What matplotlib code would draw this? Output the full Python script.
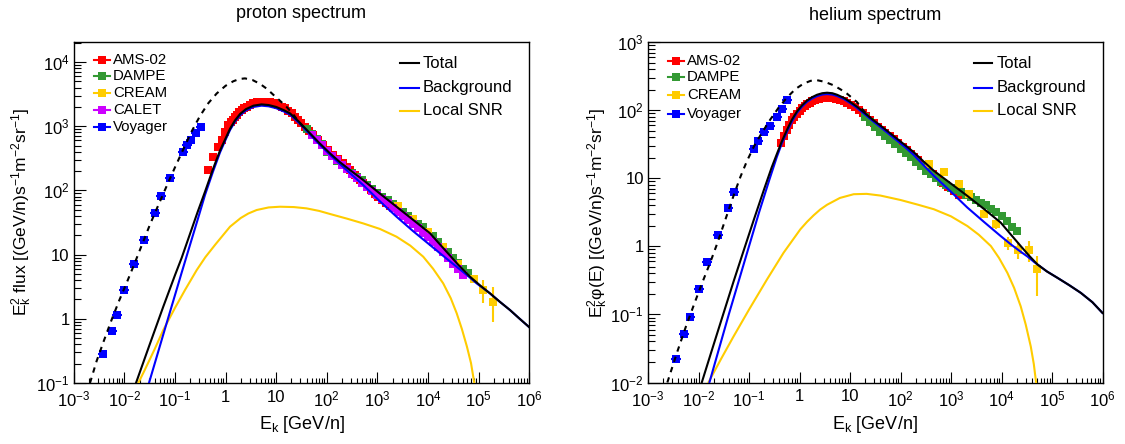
import numpy as np
import matplotlib
matplotlib.use('Agg')
import matplotlib.pyplot as plt
from matplotlib.ticker import FixedLocator, FixedFormatter, LogLocator, NullFormatter

plt.rcParams['font.family'] = ['Liberation Sans', 'DejaVu Sans']
plt.rcParams['mathtext.fontset'] = 'custom'
plt.rcParams['mathtext.rm'] = 'Liberation Sans'
plt.rcParams['mathtext.it'] = 'Liberation Sans:italic'
plt.rcParams['mathtext.bf'] = 'Liberation Sans:bold'
plt.rcParams['mathtext.default'] = 'regular'

# ---------------- colours ----------------
RED = '#ff0000'
GREEN = '#339933'
YELLOW = '#ffcc00'
MAGENTA = '#cc00ff'
BLUE = '#0000ff'

# ---------------- proton data ----------------
p_ams_E = [0.454, 0.570, 0.716, 0.836, 0.973, 1.130, 1.259, 1.380, 1.514, 1.656, 1.862, 2.080,
           2.344, 2.612, 3.020, 3.532, 4.266, 5.164, 6.237, 7.551, 9.120, 11.02, 12.82, 14.93,
           17.38, 20.23, 23.44, 27.35, 31.62, 37.07, 44.67, 54.08, 67.61, 85.31, 107.2, 134.3,
           169.8, 211.8, 245.5, 287.1, 363.1, 452.9, 524.8, 613.8, 741.3, 891.3, 1047, 1259,
           1479, 1778]
p_ams_F = [208, 335, 479, 610, 822, 1045, 1148, 1250, 1380, 1496, 1641, 1786,
           1905, 2014, 2138, 2275, 2355, 2410, 2399, 2355, 2265, 2138, 2018, 1901,
           1738, 1585, 1413, 1250, 1109, 977, 841, 729, 610, 509, 427, 356,
           309, 264, 234, 208, 174, 145, 129, 114, 100, 89.1, 79.4, 70.8,
           63.1, 56.2]

p_dampe_E = [39.8, 50.1, 63.1, 79.4, 100, 126, 158, 200, 251, 316, 398, 501, 631, 794, 1000,
             1259, 1585, 1995, 2512, 3162, 3981, 5012, 6310, 7943, 10000, 12590, 15850, 19950,
             25120, 31620, 39810, 50120, 63100, 79430]
p_dampe_F = [912, 759, 631, 525, 402, 338, 291, 253, 215, 188, 164, 143, 121, 106, 92,
             80.1, 69.8, 60.8, 52.9, 46.1, 40.2, 35.0, 30.5, 26.5, 22.5, 19.2, 16.0, 13.2,
             10.8, 9.0, 7.4, 5.95, 5.13, 4.17]

p_cream_E = [2512, 5012, 10000, 19950, 39810, 79430, 120200, 190500]
p_cream_F = [56.2, 36.3, 22.9, 13.2, 7.24, 4.17, 2.82, 1.86]
p_cream_errlo = [1.5, 1.1, 0.9, 0.8, 0.6, 0.6, 1.08, 0.96]
p_cream_errhi = [1.5, 1.1, 0.9, 0.8, 0.6, 0.6, 1.16, 1.30]

p_calet_E = [50.1, 63.1, 79.4, 100, 126, 158, 200, 251, 316, 398, 501, 631, 794, 1000, 1259, 1585,
             1995, 2512, 3162, 3981, 5012, 6310, 7943, 10000, 12590, 15850, 19950, 25120, 31620,
             39810, 50120]
p_calet_F = [724, 603, 501, 417, 347, 295, 251, 214, 182, 155, 132, 115, 97.7, 85.1, 72.4, 63.1,
             53.7, 46.8, 39.8, 34.7, 29.5, 25.7, 21.9, 18.6, 15.8, 13.2, 11.0, 8.91, 7.24, 5.89, 4.79]

p_voy_E = [0.0037, 0.0056, 0.0071, 0.0100, 0.0152, 0.0245, 0.040, 0.053, 0.081, 0.146, 0.175,
           0.203, 0.255, 0.32]
p_voy_F = [0.28, 0.65, 1.15, 2.8, 7.1, 16.9, 45, 83, 156, 401, 509, 610, 773, 977]

p_tot_E = [0.01694, 0.0316, 0.0587, 0.1, 0.1355, 0.1995, 0.2818, 0.392, 0.562, 0.774, 1.0, 1.222,
           1.531, 1.928, 2.512, 3.548, 5.129, 7.079, 10, 14.13, 18.75, 28.18, 46.56, 70.79, 115.6,
           182, 287, 525, 1122, 2388, 5012, 10960, 15850, 23230, 39810, 67610, 107200, 167900,
           263000, 416900, 631000, 1.0e6]
p_tot_F = [0.1, 0.398, 1.549, 4.79, 8.91, 21.4, 46.8, 95.5, 214, 417, 646, 912,
           1230, 1549, 1841, 2089, 2188, 2138, 1995, 1778, 1585, 1175, 776, 550, 378,
           275, 208, 145, 89.1, 55.7, 35.1, 21.5, 15.5, 11.1, 6.92, 4.53, 3.31, 2.49,
           1.84, 1.37, 1.02, 0.741]

p_bkg_E = [0.0306, 0.0447, 0.0631, 0.1, 0.1355, 0.1995, 0.2818, 0.392, 0.562, 0.774, 1.0, 1.222,
           1.531, 1.928, 2.512, 3.548, 5.129, 7.079, 10, 14.13, 18.75, 28.18, 46.56, 70.79, 115.6,
           182, 287, 525, 1122, 2388, 5012, 10960, 19950, 36900, 58880, 91200, 167900, 263000,
           416900, 631000, 1.0e6]
p_bkg_F = [0.1, 0.275, 0.692, 2.344, 5.25, 14.45, 35.5, 85.1, 195, 389, 617, 871,
           1175, 1479, 1758, 1995, 2089, 2042, 1905, 1698, 1514, 1122, 741, 525, 359,
           257, 186, 121, 67.6, 38.9, 23.4, 14.1, 9.55, 6.46, 4.79, 3.57, 2.49, 1.84,
           1.37, 1.02, 0.741]

p_snr_E = [0.0188, 0.0251, 0.0398, 0.0587, 0.1, 0.158, 0.269, 0.398, 0.631, 1.222, 1.995, 2.818,
           4.11, 7.08, 11.9, 22.4, 39.8, 70.8, 116, 251, 525, 1122, 2388, 4467, 8054, 12590,
           19950, 28180, 36900, 46770, 58880, 70790, 82220]
p_snr_F = [0.1, 0.158, 0.339, 0.670, 1.479, 2.818, 5.754, 9.12, 14.45, 27.2, 37.2, 43.7,
           49.5, 54.3, 55.7, 55.0, 52.5, 47.9, 42.9, 36.3, 30.6, 25.1, 19.0, 13.8, 9.27, 6.03,
           3.57, 2.09, 1.22, 0.692, 0.367, 0.204, 0.1]

p_lis_E = [0.00209, 0.00282, 0.00398, 0.00562, 0.00794, 0.01122, 0.01585, 0.0224, 0.0321, 0.0468,
           0.0686, 0.1, 0.1459, 0.2138, 0.3119, 0.4571, 0.6668, 1.0, 1.419, 1.862, 2.415, 3.388,
           4.786, 6.607, 8.770, 11.75, 16.11, 21.88, 29.51, 39.81]
p_lis_F = [0.1, 0.219, 0.468, 0.977, 1.95, 3.72, 7.24, 14.45, 29.5, 58.9,
           117.5, 229, 437, 832, 1445, 2291, 3236, 4266, 5012, 5433, 5559, 5248,
           4571, 3802, 3090, 2512, 1995, 1514, 1109, 871]

# ---------------- helium data ----------------
he_ams_E = [0.4365, 0.5012, 0.5623, 0.6310, 0.7079, 0.7943, 0.8913, 1.0, 1.122, 1.259, 1.413,
            1.585, 1.778, 2.042, 2.399, 2.754, 3.162, 3.758, 4.467, 5.309, 6.310, 7.499, 8.913,
            10.59, 12.59, 14.96, 17.78, 21.13, 25.12, 29.85, 35.48, 42.17, 50.12, 60.95, 74.13,
            91.2, 112.2, 133.4, 158.5, 188.4, 223.9, 281.8, 354.8, 446.7, 562.3, 707.9, 891.3,
            1122, 1413]
he_ams_F = [33.1, 41.7, 51.3, 60.3, 70.8, 80.4, 89.1, 97.7, 107.2, 114.8, 123.0,
            128.8, 134.9, 141.3, 146.2, 150.3, 153.1, 153.1, 151.4, 147.9, 142.9, 134.9, 125.9,
            117.5, 109.6, 100, 91.2, 81.3, 72.4, 63.8, 56.2, 50.7, 45.7, 41.2, 37.2,
            32.7, 28.8, 25.7, 22.9, 20.4, 18.2, 15.7, 13.5, 11.6, 10.0, 8.61, 7.41,
            6.53, 5.75]

he_dampe_E = [19.95, 25.12, 31.62, 39.81, 50.12, 63.1, 79.43, 100, 125.9, 158.5, 199.5, 251.2,
              316.2, 398.1, 501.2, 631, 794.3, 1000, 1259, 1585, 1995, 2512, 3162, 3981, 5012,
              6310, 7943, 10000, 12590, 15850, 19950]
he_dampe_F = [79.4, 66.1, 56.2, 48.4, 41.7, 36.3, 31.6, 27.2, 23.4, 20.2, 17.4, 15.0,
              12.9, 11.35, 10.0, 8.91, 7.94, 7.24, 6.61, 6.17, 5.75, 5.25, 4.79, 4.37, 3.98,
              3.55, 3.16, 2.75, 2.34, 1.95, 1.66]

he_cream_E = [363, 724, 1445, 2291, 4467, 7762, 13180, 20890, 35480, 51290]
he_cream_F = [16.2, 12.2, 8.13, 5.89, 2.95, 2.09, 1.12, 0.891, 0.891, 0.457]
he_cream_errlo = [0.8, 0.7, 0.6, 0.6, 0.35, 0.3, 0.25, 0.25, 0.3, 0.27]
he_cream_errhi = [0.8, 0.7, 0.6, 0.6, 0.35, 0.3, 0.25, 0.25, 0.3, 0.26]

he_voy_E = [0.00360, 0.00525, 0.00692, 0.0104, 0.0150, 0.0242, 0.0392, 0.0508, 0.123, 0.154,
            0.200, 0.263, 0.358, 0.450, 0.565]
he_voy_F = [0.022, 0.051, 0.092, 0.237, 0.59, 1.46, 3.7, 6.2, 27, 35.7, 47, 59, 79, 105, 139]

he_tot_E = [0.01161, 0.01778, 0.02818, 0.04932, 0.07943, 0.1259, 0.1995, 0.2818, 0.3581, 0.4467,
            0.5649, 0.7079, 0.8913, 1.122, 1.409, 1.778, 2.223, 2.818, 3.516, 4.467, 5.546, 7.586,
            10.19, 13.8, 18.71, 28.18, 40.09, 58.88, 86.1, 125.9, 183.7, 281.8, 458.1, 1000,
            2104, 4467, 9638, 15850, 24040, 35480, 51520, 79430, 128500, 218800, 372400,
            631000, 1.0e6]
he_tot_F = [0.01, 0.0275, 0.0813, 0.302, 0.891, 2.512, 6.918, 14.45, 22.9, 34.7,
            51.3, 72.4, 95.5, 117.5, 138, 155, 168, 177, 180, 177, 168, 151,
            131, 112, 93.3, 72.4, 59.3, 47.3, 37.8, 30.2, 24.0, 17.8, 12.85, 8.32,
            5.50, 3.55, 2.23, 1.445, 1.007, 0.724, 0.541, 0.427, 0.344, 0.269, 0.207,
            0.151, 0.105]

he_bkg_E = [0.01644, 0.02512, 0.03981, 0.0631, 0.1, 0.1585, 0.2512, 0.3548, 0.4467, 0.5649,
            0.7079, 0.8913, 1.122, 1.409, 1.778, 2.223, 2.818, 3.516, 4.467, 5.546, 7.586, 10.19,
            13.8, 18.71, 28.18, 40.09, 58.88, 86.1, 125.9, 183.7, 281.8, 458.1, 1000, 2104,
            4467, 9638, 15850, 23990, 32660, 44160, 51520, 79430, 128500, 218800, 372400,
            631000, 1.0e6]
he_bkg_F = [0.01, 0.0302, 0.1, 0.316, 1.0, 3.162, 9.33, 20.4, 32.4, 47.9,
            67.6, 91.2, 112, 132, 148, 160, 169, 172, 169, 161, 145, 126,
            107, 89.1, 69.2, 56.2, 44.7, 35.5, 28.2, 21.9, 15.7, 10.84, 6.31, 3.71,
            2.29, 1.413, 1.047, 0.832, 0.708, 0.589, 0.541, 0.427, 0.344, 0.269, 0.207,
            0.151, 0.105]

he_snr_E = [0.0157, 0.02818, 0.04932, 0.1, 0.2265, 0.4842, 1.038, 1.413, 1.905, 2.570, 3.516,
            6.31, 11.83, 21.38, 40.09, 100, 223.9, 458.1, 1000, 2104, 3548, 6166, 8913, 13090,
            17780, 24040, 30200, 38020, 43650, 48420]
he_snr_F = [0.01, 0.0224, 0.0473, 0.1175, 0.325, 0.805, 1.774, 2.291, 2.851, 3.467, 4.074,
            5.129, 5.821, 5.888, 5.559, 4.786, 4.074, 3.499, 2.754, 1.986, 1.479, 1.007, 0.676,
            0.407, 0.245, 0.131, 0.0708, 0.0337, 0.0186, 0.01]

he_lis_E = [0.002415, 0.003715, 0.005623, 0.007925, 0.01122, 0.01698, 0.02399, 0.03119, 0.04932,
            0.06761, 0.09078, 0.1259, 0.1778, 0.263, 0.3802, 0.5649, 0.8318, 1.205, 1.66, 2.223,
            3.162, 4.753, 6.457, 8.75, 13.8, 18.62, 25.12]
he_lis_F = [0.01, 0.0269, 0.0661, 0.132, 0.263, 0.573, 1.148, 2.042, 5.495,
            10.47, 17.78, 29.5, 45.7, 72.4, 107, 153, 204, 245, 269, 275,
            260, 231, 202, 174, 131, 97.7, 77.6]

voy_xerr_ratio = 1.25

# ---------------- axis labels / ticks ----------------
x_ticks = [1e-3, 1e-2, 1e-1, 1, 10, 1e2, 1e3, 1e4, 1e5, 1e6]
x_ticklabels = [r'$10^{-3}$', r'$10^{-2}$', r'$10^{-1}$', '1', '10', r'$10^{2}$', r'$10^{3}$',
                r'$10^{4}$', r'$10^{5}$', r'$10^{6}$']
p_yticks = [1e-1, 1, 10, 1e2, 1e3, 1e4]
p_yticklabels = [r'$10^{-1}$', '1', '10', r'$10^{2}$', r'$10^{3}$', r'$10^{4}$']
he_yticks = [1e-2, 1e-1, 1, 10, 1e2, 1e3]
he_yticklabels = [r'$10^{-2}$', r'$10^{-1}$', '1', '10', r'$10^{2}$', r'$10^{3}$']

xlabel = r'$E_{k}$ [GeV/n]'
p_ylabel = r'$E_{k}^{2}$ flux [(GeV/n)s$^{-1}$m$^{-2}$sr$^{-1}$]'
he_ylabel = r'$E_{k}^{2}$φ(E) [(GeV/n)s$^{-1}$m$^{-2}$sr$^{-1}$]'

curve_labels = ['Total', 'Background', 'Local SNR']
curve_colors = ['black', BLUE, YELLOW]

W, H = 1125, 444
fig = plt.figure(figsize=(W / 100, H / 100), dpi=100)
ax1 = fig.add_axes([73.8 / W, 61 / H, 455.4 / W, 341 / H])
ax2 = fig.add_axes([648 / W, 61.5 / H, 454.5 / W, 340.5 / H])

MS = 6.0
LW = 1.5


def plot_data(ax, E, F, color, yerr=None, voy=False):
    E = np.asarray(E, float)
    F = np.asarray(F, float)
    xerr = None
    if voy:
        xerr = [E - E / voy_xerr_ratio, E * voy_xerr_ratio - E]
    ax.errorbar(E, F, xerr=xerr, yerr=yerr, fmt='s', ms=MS, mew=0, color=color,
                ecolor=color, elinewidth=1.5, capsize=0, zorder=3)


def style_axes(ax, yticks, ylabels, ylim, ylab, ylab_x):
    ax.set_xscale('log')
    ax.set_yscale('log')
    ax.set_xlim(1e-3, 1e6)
    ax.set_ylim(*ylim)
    ax.xaxis.set_major_locator(FixedLocator(x_ticks))
    ax.xaxis.set_major_formatter(FixedFormatter(x_ticklabels))
    ax.xaxis.set_minor_locator(LogLocator(base=10, subs=np.arange(2, 10), numticks=100))
    ax.xaxis.set_minor_formatter(NullFormatter())
    ax.yaxis.set_major_locator(FixedLocator(yticks))
    ax.yaxis.set_major_formatter(FixedFormatter(ylabels))
    ax.yaxis.set_minor_locator(LogLocator(base=10, subs=np.arange(2, 10), numticks=100))
    ax.yaxis.set_minor_formatter(NullFormatter())
    ax.tick_params(axis='x', which='major', direction='in', length=8, width=0.8,
                   labelsize=12, pad=5, top=False)
    ax.tick_params(axis='x', which='minor', direction='in', length=3.8, width=0.8, top=False)
    ax.tick_params(axis='y', which='major', direction='in', length=8.6, width=0.8,
                   labelsize=12, pad=3, right=False)
    ax.tick_params(axis='y', which='minor', direction='in', length=4.8, width=0.8, right=False)
    for s in ax.spines.values():
        s.set_linewidth(1.0)
    ax.set_xlabel(xlabel, fontsize=13)
    ax.xaxis.set_label_coords(0.5, -0.123)
    ax.xaxis.label.set_verticalalignment('center')
    ax.set_ylabel(ylab, fontsize=12.5)
    ax.yaxis.set_label_coords(ylab_x, 0.5)
    ax.yaxis.label.set_verticalalignment('center')


def data_legend(ax, labels, colors, ys):
    for lab, c, y in zip(labels, colors, ys):
        ax.plot([0.045, 0.080], [y, y], color=c, lw=LW, transform=ax.transAxes, clip_on=False)
        ax.plot([0.0625], [y], 's', ms=MS, mew=0, color=c, transform=ax.transAxes, clip_on=False)
        ax.text(0.086, y, lab, transform=ax.transAxes, ha='left', va='center', fontsize=10.8)


def curve_legend(ax):
    for lab, c, y in zip(curve_labels, curve_colors, [0.9375, 0.866, 0.798]):
        ax.plot([0.717, 0.757], [y, y], color=c, lw=LW, transform=ax.transAxes, clip_on=False)
        ax.text(0.767, y, lab, transform=ax.transAxes, ha='left', va='center', fontsize=12)


dash = (0, (2.6, 2.6))

# ---------------- proton panel ----------------
plot_data(ax1, p_ams_E, p_ams_F, RED)
plot_data(ax1, p_dampe_E, p_dampe_F, GREEN)
plot_data(ax1, p_cream_E, p_cream_F, YELLOW, yerr=[p_cream_errlo, p_cream_errhi])
plot_data(ax1, p_calet_E, p_calet_F, MAGENTA)
plot_data(ax1, p_voy_E, p_voy_F, BLUE, voy=True)
ax1.plot(p_snr_E, p_snr_F, color=YELLOW, lw=LW, zorder=4)
ax1.plot(p_bkg_E, p_bkg_F, color=BLUE, lw=LW, zorder=5)
ax1.plot(p_tot_E, p_tot_F, color='black', lw=LW, zorder=6)
ax1.plot(p_lis_E, p_lis_F, color='black', lw=LW, ls=dash, zorder=6)
style_axes(ax1, p_yticks, p_yticklabels, (0.1, 2.05e4), p_ylabel, -0.115)
data_legend(ax1, ['AMS-02', 'DAMPE', 'CREAM', 'CALET', 'Voyager'],
            [RED, GREEN, YELLOW, MAGENTA, BLUE], [0.947, 0.899, 0.850, 0.8006, 0.751])
curve_legend(ax1)

# ---------------- helium panel ----------------
plot_data(ax2, he_ams_E, he_ams_F, RED)
plot_data(ax2, he_dampe_E, he_dampe_F, GREEN)
plot_data(ax2, he_cream_E, he_cream_F, YELLOW, yerr=[he_cream_errlo, he_cream_errhi])
plot_data(ax2, he_voy_E, he_voy_F, BLUE, voy=True)
ax2.plot(he_snr_E, he_snr_F, color=YELLOW, lw=LW, zorder=4)
ax2.plot(he_bkg_E, he_bkg_F, color=BLUE, lw=LW, zorder=5)
ax2.plot(he_tot_E, he_tot_F, color='black', lw=LW, zorder=6)
ax2.plot(he_lis_E, he_lis_F, color='black', lw=LW, ls=dash, zorder=6)
style_axes(ax2, he_yticks, he_yticklabels, (0.01, 1000), he_ylabel, -0.11)
data_legend(ax2, ['AMS-02', 'DAMPE', 'CREAM', 'Voyager'],
            [RED, GREEN, YELLOW, BLUE], [0.945, 0.8966, 0.8429, 0.789])
curve_legend(ax2)

fig.text(301 / W, 1 - 13 / H, 'proton spectrum', ha='center', va='center', fontsize=13)
fig.text(875 / W, 1 - 15 / H, 'helium spectrum', ha='center', va='center', fontsize=13)

fig.savefig('out.png', dpi=100)
